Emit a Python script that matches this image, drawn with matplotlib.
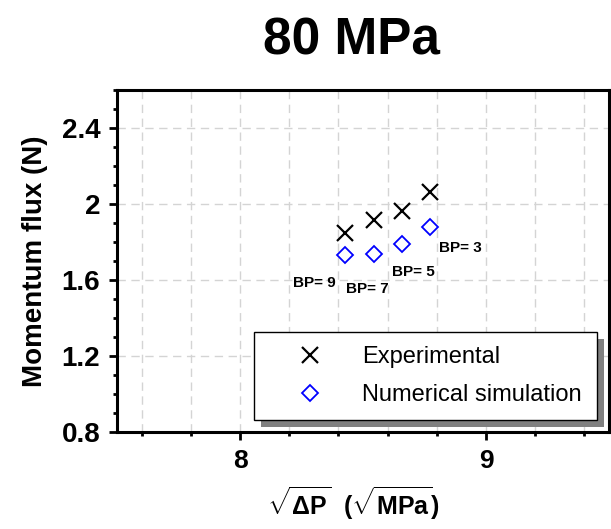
import matplotlib
matplotlib.use('Agg')
import matplotlib.pyplot as plt
from matplotlib.patches import Rectangle
from matplotlib.ticker import MultipleLocator

plt.rcParams['font.family'] = ['Liberation Sans', 'DejaVu Sans']
plt.rcParams['mathtext.fontset'] = 'custom'
plt.rcParams['mathtext.rm'] = 'Liberation Sans'
plt.rcParams['mathtext.bf'] = 'Liberation Sans:bold'
plt.rcParams['mathtext.default'] = 'bf'

# data
sqrt_dp = [8.425, 8.543, 8.660, 8.773]
flux_exp = [1.847, 1.916, 1.963, 2.063]
flux_num = [1.732, 1.738, 1.789, 1.879]
bp_labels = ['BP= 9', 'BP= 7', 'BP= 5', 'BP= 3']
bp_label_pos = [(8.215, 1.584), (8.429, 1.553), (8.619, 1.642), (8.810, 1.768)]

fig = plt.figure(figsize=(6.11, 5.29), dpi=100)
ax = fig.add_axes([0.1915, 0.1834, 0.8053, 0.6465])

ax.plot(sqrt_dp, flux_exp, ls='none', marker='x', ms=11, mew=1.6, color='black',
        label='Experimental', zorder=3)
ax.plot(sqrt_dp, flux_num, ls='none', marker='D', ms=8, mew=1.3, mfc='none',
        mec='blue', label='Numerical simulation', zorder=3)

for txt, (x, y) in zip(bp_labels, bp_label_pos):
    ax.text(x, y, txt, fontsize=11, fontweight='bold', ha='left', va='center')

ax.set_xlim(7.5, 9.5)
ax.set_ylim(0.8, 2.6)
ax.xaxis.set_major_locator(MultipleLocator(1))
ax.xaxis.set_minor_locator(MultipleLocator(0.2))
ax.yaxis.set_major_locator(MultipleLocator(0.4))
ax.yaxis.set_minor_locator(MultipleLocator(0.1))
ax.yaxis.set_major_formatter(matplotlib.ticker.FuncFormatter(lambda v, p: f'{v:g}'))

ax.grid(True, which='major', axis='y', color='#d4d4d4', ls=(0, (6, 4)), lw=1)
ax.grid(True, which='both', axis='x', color='#d4d4d4', ls=(0, (6, 4)), lw=1)
ax.set_axisbelow(True)

for s in ax.spines.values():
    s.set_linewidth(2.2)
ax.tick_params(which='major', direction='out', length=6, width=2, pad=6)
ax.tick_params(axis='y', which='major', labelsize=20)
ax.tick_params(axis='x', which='major', labelsize=19)
ax.tick_params(which='minor', direction='out', length=3, width=2)
for lab in ax.get_xticklabels() + ax.get_yticklabels():
    lab.set_fontweight('bold')

ax.set_ylabel('Momentum flux (N)', fontsize=20, fontweight='bold', labelpad=10)
ax.set_xlabel(r'$\sqrt{\Delta P}$  ($\sqrt{MPa}$)', fontsize=18, fontweight='bold')
ax.xaxis.set_label_coords(0.48, -0.262, transform=ax.transAxes)
ax.xaxis.label.set_va('bottom')
fig.text(0.576, 0.922, '80 MPa', fontsize=37, fontweight='bold', ha='center', va='center')

leg = ax.legend(loc='lower left', bbox_to_anchor=(0.278, 0.035, 0.698, 0.254),
                mode='expand', fontsize=17, frameon=True, fancybox=False,
                edgecolor='black', framealpha=1, borderpad=0.6,
                labelspacing=0.65, handlelength=3.6, handletextpad=0.4,
                borderaxespad=0)
leg.get_frame().set_linewidth(1)
leg.set_zorder(5)

fig.canvas.draw()
bb = leg.get_window_extent()
shadow = Rectangle((bb.x0 + 7, bb.y0 - 7), bb.width, bb.height, transform=None,
                   facecolor='#808080', edgecolor='none', zorder=4)
ax.add_artist(shadow)

fig.savefig('out.png', dpi=100)
